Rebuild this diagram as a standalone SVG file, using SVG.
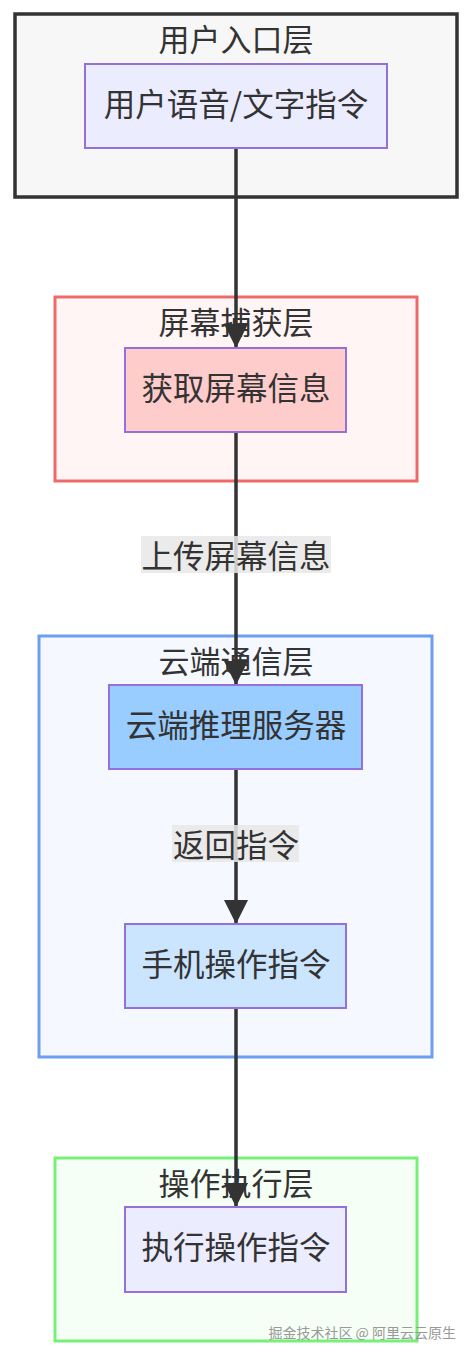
<svg xmlns="http://www.w3.org/2000/svg" width="472" height="1354" viewBox="0 0 472 1354">
<style>
text{font-family:"Noto Sans CJK SC","Noto Sans",sans-serif;fill:#333;text-anchor:middle;dominant-baseline:central}
.t{font-size:31px}
.n{font-size:31.5px}
.lbl{font-size:31.5px}
.node{stroke:#9370db;stroke-width:2}
.edge{stroke:#333;stroke-width:3.5;fill:none}
.wm{font-size:14px;fill:#999;text-anchor:end}
</style>
<defs>
<marker id="arr" markerUnits="userSpaceOnUse" markerWidth="26" markerHeight="26" refX="24" refY="12" orient="auto">
<path d="M0,0 L24,12 L0,24 z" fill="#333"/>
</marker>
</defs>
<rect width="472" height="1354" fill="#ffffff"/>
<g id="layer-user">
<rect x="15" y="14" width="442" height="183" fill="#f7f7f7" stroke="#333" stroke-width="3.5"/>
<text class="t" x="236" y="37">用户入口层</text>
</g>
<g id="layer-screen">
<rect x="55" y="297" width="362" height="184" fill="#fff5f5" stroke="#f06a6a" stroke-width="3"/>
<text class="t" x="236" y="320">屏幕捕获层</text>
</g>
<g id="layer-cloud">
<rect x="39" y="636" width="393" height="421" fill="#f5f8ff" stroke="#6d9ef0" stroke-width="3"/>
<text class="t" x="236" y="659">云端通信层</text>
</g>
<g id="layer-exec">
<rect x="55" y="1158" width="362" height="183" fill="#f5fff5" stroke="#77f077" stroke-width="3"/>
<text class="t" x="236" y="1181">操作执行层</text>
</g>
<g id="edges">
<line class="edge" x1="236" y1="148" x2="236" y2="348" marker-end="url(#arr)"/>
<line class="edge" x1="236" y1="432" x2="236" y2="685" marker-end="url(#arr)"/>
<line class="edge" x1="236" y1="769" x2="236" y2="924" marker-end="url(#arr)"/>
<line class="edge" x1="236" y1="1008" x2="236" y2="1207" marker-end="url(#arr)"/>
<rect x="141" y="536" width="190" height="37" fill="#e8e8e8" opacity="0.85"/>
<text class="lbl" x="236" y="554">上传屏幕信息</text>
<rect x="172" y="825" width="127" height="37" fill="#e8e8e8" opacity="0.85"/>
<text class="lbl" x="236" y="843">返回指令</text>
</g>
<g id="node-input">
<rect class="node" x="85" y="64" width="302" height="84" fill="#ececff"/>
<text class="n" x="236" y="102">用户语音/文字指令</text>
</g>
<g id="node-capture">
<rect class="node" x="125" y="348" width="221" height="84" fill="#ffcccc"/>
<text class="n" x="236" y="386">获取屏幕信息</text>
</g>
<g id="node-server">
<rect class="node" x="109" y="685" width="253" height="84" fill="#99ccff"/>
<text class="n" x="236" y="723">云端推理服务器</text>
</g>
<g id="node-cmd">
<rect class="node" x="125" y="924" width="221" height="84" fill="#cce5ff"/>
<text class="n" x="236" y="962">手机操作指令</text>
</g>
<g id="node-exec">
<rect class="node" x="125" y="1207" width="221" height="85" fill="#ececff"/>
<text class="n" x="236" y="1245">执行操作指令</text>
</g>
<text class="wm" x="456" y="1332">掘金技术社区 @ 阿里云云原生</text>
</svg>
